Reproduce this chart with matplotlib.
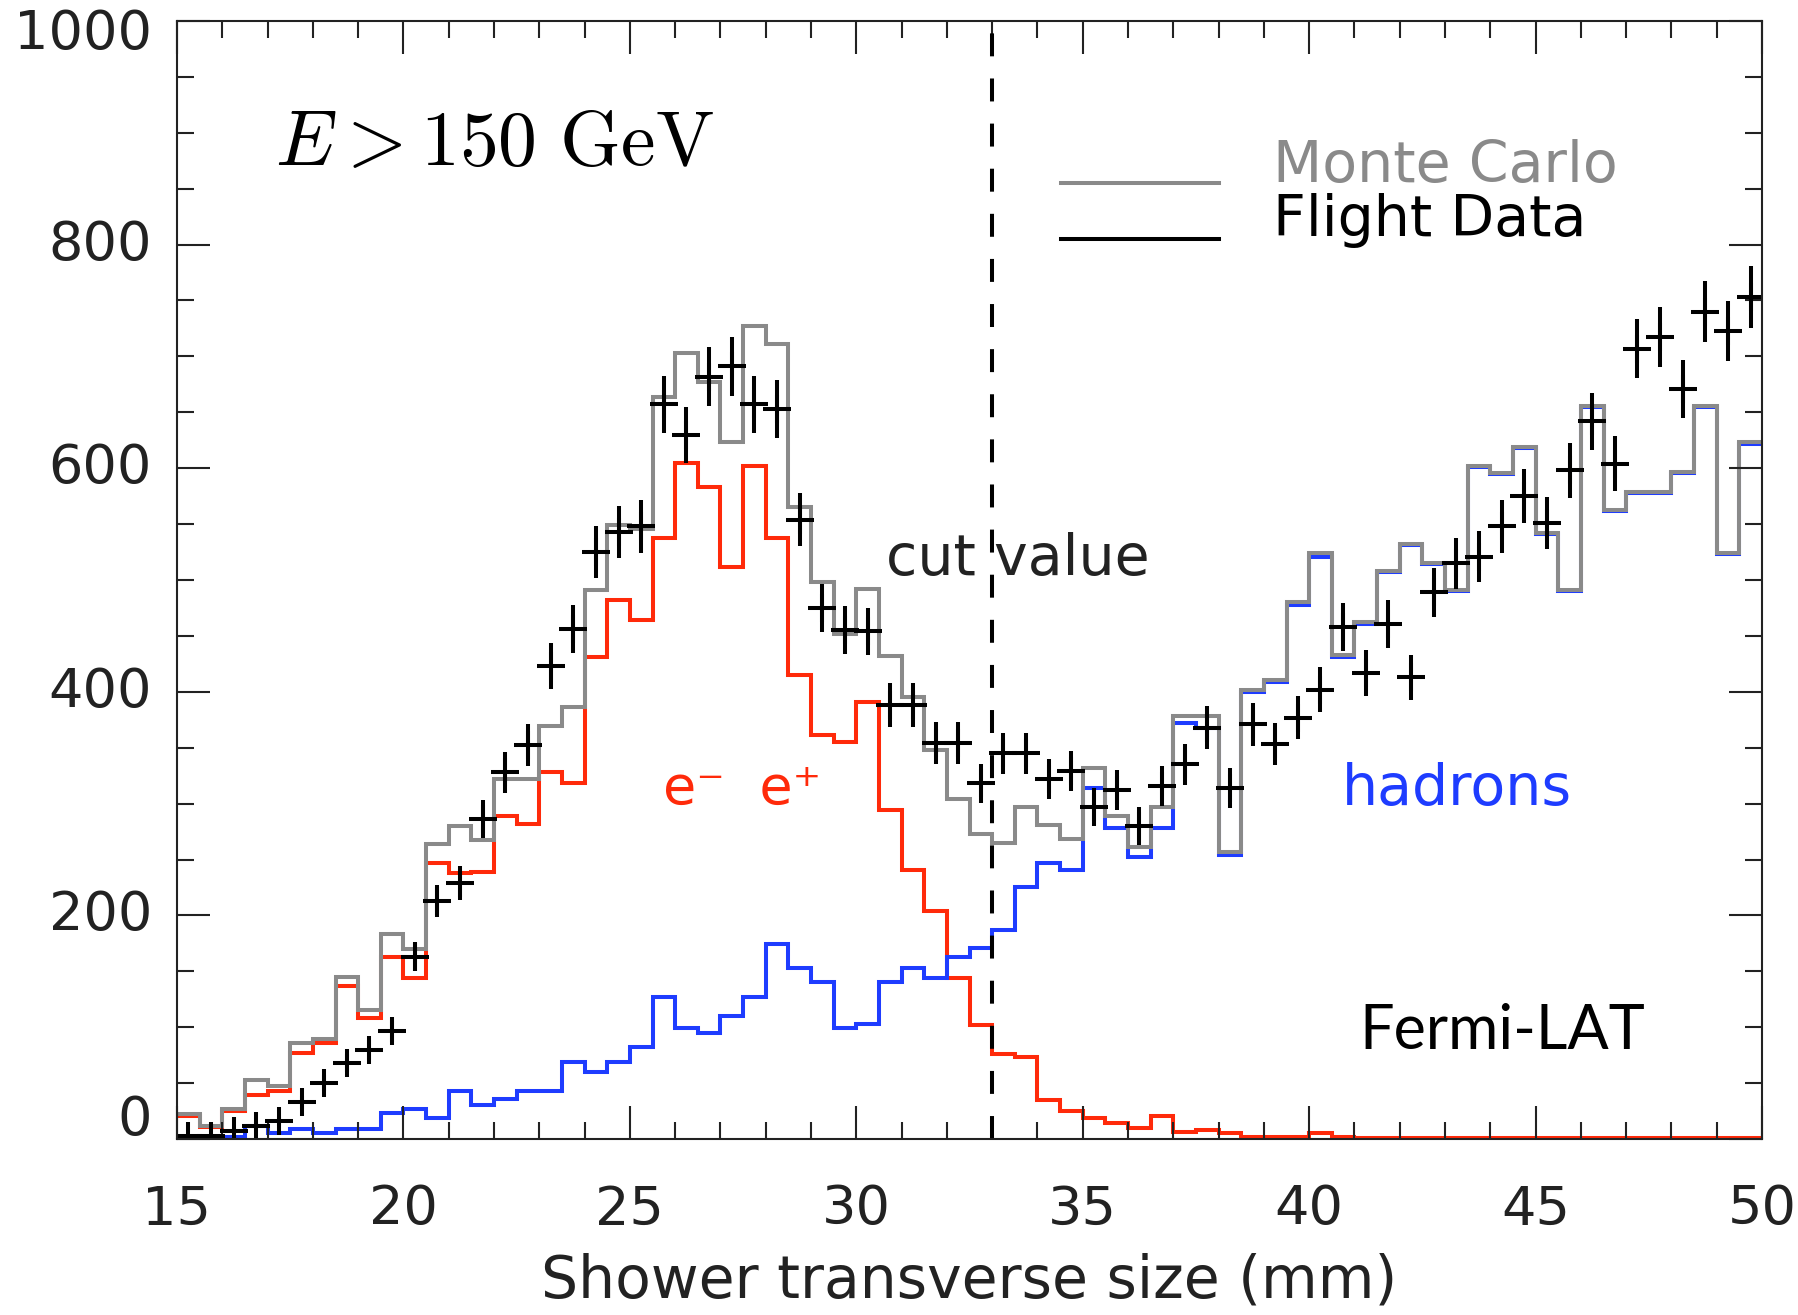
import numpy as np
import matplotlib.pyplot as plt
from matplotlib.ticker import MultipleLocator

plt.rcParams['font.family'] = ['DejaVu Sans']
plt.rcParams['mathtext.fontset'] = 'cm'

# 0.5 mm bins from 15 to 50 mm
edges = np.linspace(15, 50, 71)
centres = edges[:-1] + 0.25

# Monte Carlo total (e+e- plus hadrons)
mc_total = [22, 12, 27, 53, 47, 86, 89, 145, 115, 183,
            170, 264, 280, 267, 322, 322, 369, 386, 491, 549,
            546, 664, 703, 677, 623, 727, 711, 565, 498, 452,
            492, 432, 395, 348, 304, 273, 265, 297, 281, 268,
            332, 289, 261, 297, 378, 378, 257, 402, 411, 480,
            524, 433, 462, 508, 532, 515, 491, 602, 596, 619,
            542, 491, 656, 563, 579, 579, 597, 656, 524, 623]

# Monte Carlo electrons + positrons
mc_leptons = [21, 11, 25, 39, 43, 77, 86, 137, 108, 163,
              144, 247, 238, 239, 289, 282, 328, 318, 431, 482,
              464, 538, 605, 583, 512, 602, 538, 415, 361, 355,
              391, 294, 241, 204, 144, 102, 76, 73, 35, 25,
              19, 14, 10, 21, 6, 8, 5, 2, 2, 2,
              5, 2, 1, 1, 1, 1, 1, 1, 1, 1,
              1, 1, 1, 1, 1, 1, 1, 1, 1, 1]

# Monte Carlo hadrons
mc_hadrons = [1, 1, 2, 12, 5, 9, 5, 9, 9, 23,
              27, 19, 43, 30, 36, 43, 43, 69, 60, 69,
              82, 127, 99, 95, 110, 127, 174, 153, 140, 99,
              103, 140, 153, 144, 163, 171, 187, 225, 247, 241,
              314, 278, 252, 278, 372, 368, 254, 400, 409, 478,
              521, 431, 461, 507, 531, 514, 490, 601, 595, 618,
              541, 490, 655, 562, 578, 578, 596, 655, 523, 622]

# flight data counts
flight = np.array([3, 3, 7, 12, 16, 33, 50, 68, 80, 97,
                   163, 213, 229, 286, 328, 352, 423, 456, 525, 543,
                   548, 657, 630, 682, 691, 657, 653, 554, 475, 455,
                   454, 388, 388, 354, 354, 318, 345, 345, 322, 329,
                   297, 312, 280, 316, 335, 368, 314, 371, 353, 377,
                   402, 458, 417, 461, 413, 489, 515, 521, 548, 575,
                   551, 598, 642, 604, 707, 717, 671, 740, 723, 753])

cut = 33.0

RED = '#ff2a0a'
BLUE = '#1e3cff'
GREY = '#8a8a8a'
LW = 2.9

fig = plt.figure(figsize=(17.98, 13.15), dpi=100)
ax = fig.add_axes([177 / 1798, 1 - 1139 / 1315, 1585 / 1798, 1118 / 1315])

ax.stairs(mc_leptons, edges, baseline=None, color=RED, lw=LW)
ax.stairs(mc_hadrons, edges, baseline=None, color=BLUE, lw=LW)
ax.stairs(mc_total, edges, baseline=None, color=GREY, lw=LW)

# flight data with Poisson errors
ax.errorbar(centres, flight, yerr=np.sqrt(flight), fmt='+', color='k',
            ms=19.5, mew=LW, elinewidth=LW, capsize=0)

ax.axvline(cut, color='k', lw=LW, ls=(0, (5.7, 5.5)))

ax.set_xlim(15, 50)
ax.set_ylim(0, 1000)

ax.xaxis.set_major_locator(MultipleLocator(5))
ax.xaxis.set_minor_locator(MultipleLocator(1))
ax.yaxis.set_major_locator(MultipleLocator(200))
ax.yaxis.set_minor_locator(MultipleLocator(50))
ax.tick_params(which='both', direction='in', top=True, right=True,
               width=1.5, color='#222222')
ax.tick_params(which='major', length=24)
ax.tick_params(which='minor', length=12)
ax.tick_params(axis='x', labelsize=39, pad=32, labelcolor='#222222')
ax.set_yticklabels([])
for sp in ax.spines.values():
    sp.set_linewidth(1.5)
    sp.set_color('#222222')

# y tick labels, the end ones pulled inside the frame
for v in range(0, 1001, 200):
    dy = 14 if v == 0 else (-9 if v == 1000 else 0)
    ax.annotate(str(v), xy=(0, v), xycoords=('axes fraction', 'data'),
                xytext=(-18, dy), textcoords='offset points',
                ha='right', va='center', fontsize=39, color='#222222')

ax.set_xlabel('Shower transverse size (mm)', fontsize=42, labelpad=12,
              color='#222222')

ax.text(17.16, 871, r'$E > 150\ \mathrm{GeV}$', fontsize=56, va='baseline')
ax.text(30.65, 518, 'cut value', fontsize=41, va='center', color='#222222')
ax.text(25.73, 313, 'e\u207b  e\u207a', fontsize=39, va='center', color=RED)
ax.text(40.72, 313, 'hadrons', fontsize=41, va='center', color=BLUE)
ax.text(41.1, 96, 'Fermi-LAT', fontsize=44, va='center', family='Lato')

# key: sample lines sit a little below their labels
ax.plot([0.5577, 0.6574], [0.8547, 0.8547], color=GREY, lw=LW,
        transform=ax.transAxes)
ax.plot([0.5577, 0.6574], [0.8054, 0.8054], color='k', lw=LW,
        transform=ax.transAxes)
ax.text(0.6915, 0.8703, 'Monte Carlo', fontsize=41, va='center',
        color=GREY, transform=ax.transAxes)
ax.text(0.6915, 0.822, 'Flight Data', fontsize=41, va='center',
        color='k', transform=ax.transAxes)

fig.savefig('out.png', dpi=100)
